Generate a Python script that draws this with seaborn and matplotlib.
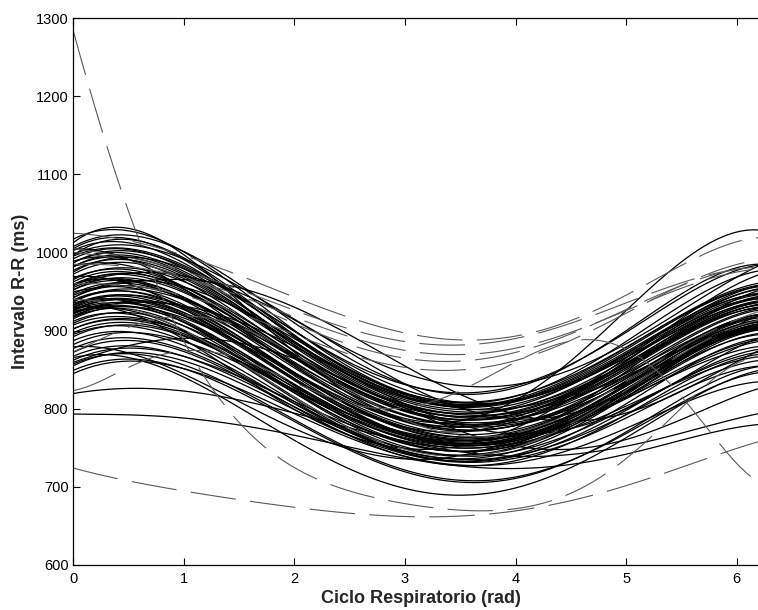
import numpy as np
import pandas as pd
import matplotlib
matplotlib.use("Agg")
import matplotlib.pyplot as plt
import seaborn as sns

# x positions (rad) at which each curve was read
X_KNOTS = [0.0, 0.5, 1.0, 1.5, 2.0, 2.5, 3.0, 3.5, 4.0, 4.5, 5.0, 5.5, 6.0, 6.28]

# solid black curves (R-R interval, ms)
SOLID_HIGH = [
    [1015, 1027, 995, 940, 878, 822, 780, 778, 812, 870, 928, 985, 1020, 1032],
    [1010, 1018, 1000, 962, 915, 868, 823, 812, 830, 865, 900, 943, 978, 988],
    [1005, 1008, 985, 945, 898, 852, 811, 802, 821, 850, 878, 915, 950, 962],
    [1000, 1010, 992, 952, 900, 850, 805, 797, 816, 845, 872, 908, 945, 958],
    [995, 998, 978, 940, 892, 845, 801, 792, 811, 840, 868, 903, 938, 950],
    [990, 996, 980, 946, 900, 852, 808, 799, 816, 842, 870, 908, 948, 962],
    [1020, 1022, 1000, 958, 905, 855, 811, 802, 821, 852, 885, 928, 968, 980],
    [985, 990, 972, 935, 888, 840, 795, 787, 806, 835, 862, 898, 933, 945],
    [998, 1000, 982, 948, 905, 862, 821, 814, 834, 865, 898, 938, 975, 988],
    [992, 985, 962, 925, 880, 835, 793, 787, 808, 840, 870, 906, 940, 950],
    [1000, 1005, 990, 960, 920, 878, 835, 824, 836, 858, 882, 921, 968, 990],
    [990, 993, 975, 938, 892, 846, 803, 796, 814, 842, 870, 906, 940, 952],
    [985, 988, 970, 935, 890, 845, 803, 797, 816, 846, 876, 913, 948, 960],
    [1005, 990, 955, 905, 855, 812, 785, 778, 790, 820, 865, 915, 960, 975],
    [1008, 1012, 990, 948, 897, 848, 805, 798, 818, 848, 878, 915, 952, 965],
    [978, 988, 978, 948, 905, 858, 815, 802, 815, 840, 866, 900, 935, 946],
    [945, 958, 955, 932, 895, 852, 810, 795, 805, 828, 855, 890, 925, 936],
    [920, 932, 930, 908, 872, 830, 790, 776, 786, 810, 840, 876, 912, 924],
]
SOLID_MID = [
    [980, 985, 968, 932, 888, 842, 799, 790, 806, 832, 858, 891, 925, 937],
    [975, 982, 965, 930, 885, 838, 793, 782, 798, 825, 852, 888, 925, 938],
    [970, 972, 955, 920, 876, 830, 788, 780, 798, 826, 855, 891, 928, 940],
    [965, 970, 952, 915, 870, 825, 783, 774, 791, 818, 846, 883, 920, 932],
    [960, 968, 955, 922, 880, 836, 793, 784, 801, 828, 858, 896, 935, 948],
    [958, 960, 942, 905, 860, 815, 773, 766, 784, 812, 842, 881, 918, 930],
    [955, 962, 948, 915, 873, 830, 789, 780, 796, 820, 845, 878, 910, 922],
    [950, 955, 940, 905, 862, 818, 776, 767, 784, 810, 838, 875, 912, 925],
    [948, 950, 932, 896, 852, 808, 765, 757, 776, 805, 835, 873, 910, 922],
    [945, 952, 940, 910, 870, 828, 786, 777, 792, 815, 840, 873, 905, 915],
    [942, 945, 928, 892, 848, 802, 758, 747, 764, 792, 822, 861, 900, 913],
    [985, 978, 955, 918, 875, 832, 791, 784, 802, 830, 858, 895, 930, 942],
    [968, 975, 962, 930, 890, 848, 808, 800, 816, 840, 865, 898, 930, 940],
    [962, 958, 938, 902, 858, 815, 775, 770, 791, 822, 852, 889, 922, 932],
    [940, 948, 938, 912, 875, 835, 795, 787, 801, 820, 842, 871, 900, 910],
    [962, 966, 950, 915, 872, 828, 787, 780, 798, 826, 856, 893, 928, 940],
    [955, 958, 942, 908, 865, 822, 781, 774, 792, 820, 850, 887, 922, 934],
    [960, 972, 970, 950, 915, 872, 830, 800, 788, 795, 822, 862, 905, 925],
    [970, 958, 928, 885, 840, 800, 775, 770, 785, 818, 862, 908, 945, 955],
    [950, 962, 965, 955, 930, 895, 855, 818, 792, 785, 795, 822, 860, 880],
]
SOLID_CENTER = [
    [935, 938, 922, 888, 845, 800, 758, 750, 768, 798, 830, 868, 905, 918],
    [932, 935, 920, 886, 843, 798, 755, 747, 764, 792, 823, 861, 898, 910],
    [930, 933, 918, 885, 842, 798, 758, 752, 771, 800, 830, 868, 903, 915],
    [928, 930, 912, 878, 835, 792, 751, 744, 762, 790, 820, 858, 895, 907],
    [925, 930, 918, 888, 850, 808, 766, 758, 774, 798, 825, 860, 893, 905],
    [922, 925, 910, 878, 838, 795, 755, 750, 768, 796, 825, 861, 895, 906],
    [920, 922, 905, 870, 826, 782, 741, 735, 754, 785, 818, 858, 895, 908],
    [918, 925, 915, 888, 852, 812, 773, 767, 784, 808, 832, 865, 896, 906],
    [915, 915, 898, 862, 818, 775, 735, 730, 751, 782, 815, 855, 892, 905],
    [912, 918, 905, 875, 836, 795, 756, 750, 766, 792, 820, 855, 888, 898],
    [910, 912, 898, 868, 830, 790, 751, 747, 766, 795, 825, 863, 898, 910],
    [905, 910, 898, 870, 833, 795, 758, 754, 772, 800, 828, 865, 900, 912],
    [938, 932, 910, 872, 828, 785, 745, 740, 760, 792, 825, 865, 902, 915],
    [926, 920, 900, 864, 820, 778, 739, 735, 756, 788, 822, 863, 900, 912],
    [933, 940, 930, 902, 864, 822, 781, 772, 786, 808, 832, 865, 897, 908],
    [936, 940, 926, 893, 850, 806, 763, 754, 771, 800, 832, 871, 908, 920],
    [929, 934, 922, 892, 852, 810, 769, 762, 778, 805, 835, 871, 905, 916],
    [924, 926, 910, 875, 832, 788, 747, 740, 758, 788, 820, 859, 896, 908],
    [940, 944, 930, 896, 852, 806, 763, 756, 774, 804, 836, 875, 912, 924],
    [925, 935, 932, 912, 880, 842, 805, 780, 768, 775, 800, 838, 878, 895],
    [930, 920, 890, 845, 800, 765, 748, 752, 775, 815, 862, 905, 935, 942],
]
SOLID_LOW = [
    [900, 905, 893, 865, 828, 790, 753, 748, 764, 788, 812, 845, 878, 890],
    [895, 902, 892, 865, 830, 792, 755, 750, 766, 790, 815, 848, 880, 892],
    [890, 893, 880, 850, 812, 772, 733, 727, 744, 770, 798, 833, 868, 880],
    [885, 892, 885, 862, 830, 795, 759, 754, 771, 792, 813, 843, 873, 883],
    [880, 885, 875, 848, 812, 775, 738, 734, 751, 775, 800, 833, 865, 876],
    [875, 882, 872, 845, 808, 768, 728, 722, 738, 765, 792, 828, 862, 873],
    [870, 875, 866, 842, 808, 772, 735, 730, 746, 768, 792, 823, 855, 865],
    [865, 872, 866, 845, 815, 782, 748, 744, 761, 782, 803, 831, 860, 870],
    [860, 865, 855, 828, 792, 752, 711, 702, 718, 742, 768, 803, 838, 850],
    [858, 866, 860, 838, 805, 768, 731, 726, 742, 765, 788, 818, 848, 858],
    [852, 858, 850, 825, 790, 750, 708, 700, 716, 742, 770, 808, 845, 858],
    [848, 855, 850, 830, 800, 765, 728, 722, 736, 756, 775, 801, 828, 838],
    [868, 860, 840, 805, 765, 725, 688, 684, 704, 732, 762, 801, 840, 853],
    [905, 908, 895, 865, 826, 785, 745, 740, 758, 785, 815, 853, 888, 900],
    [898, 900, 886, 855, 815, 773, 733, 728, 746, 775, 806, 845, 882, 894],
    [880, 870, 845, 810, 775, 748, 735, 740, 762, 800, 848, 898, 940, 955],
    [860, 880, 890, 885, 865, 835, 800, 770, 752, 750, 762, 785, 815, 830],
]
SOLID_OUTLIERS = [
    [820, 825, 823, 812, 795, 775, 757, 745, 740, 742, 752, 768, 788, 796],
    [793, 793, 788, 778, 766, 752, 738, 727, 719, 730, 745, 759, 774, 782],
]

# gray dashed curves
DASHED_UPPER = [
    [1025, 1015, 996, 972, 943, 915, 897, 890, 893, 912, 945, 985, 1013, 1020],
    [1005, 995, 975, 952, 928, 902, 885, 882, 890, 910, 935, 962, 978, 982],
    [985, 982, 968, 945, 918, 892, 874, 870, 878, 898, 925, 955, 975, 980],
    [1000, 990, 968, 940, 910, 882, 864, 862, 872, 895, 928, 958, 978, 983],
    [960, 958, 945, 922, 896, 870, 852, 850, 862, 888, 922, 958, 985, 992],
]
DASHED_OTHER = [
    [1280, 1066, 875, 775, 732, 702, 680, 664, 664, 695, 745, 800, 850, 868],
    [724, 708, 695, 683, 673, 667, 664, 662, 667, 683, 703, 725, 748, 762],
    [822, 858, 870, 860, 838, 812, 800, 815, 860, 895, 875, 810, 735, 700],
    [873, 905, 918, 905, 870, 825, 785, 765, 770, 795, 835, 878, 915, 928],
    [940, 930, 900, 860, 815, 775, 748, 740, 750, 780, 825, 870, 905, 915],
]

Y_TICKS = [600, 700, 800, 900, 1000, 1100, 1200, 1300]
X_TICKS = [0, 1, 2, 3, 4, 5, 6]
X_LABEL = "Ciclo Respiratorio (rad)"
Y_LABEL = "Intervalo R-R (ms)"

SOLID = SOLID_HIGH + SOLID_MID + SOLID_CENTER + SOLID_LOW + SOLID_OUTLIERS
DASHED = DASHED_UPPER + DASHED_OTHER

sns.set_style("ticks")
plt.rcParams["font.family"] = ["Liberation Sans", "DejaVu Sans"]

W, H = 758, 610
fig = plt.figure(figsize=(W / 100, H / 100), dpi=100)
px_per_unit = 110.57
ax = fig.add_axes([73.3 / W, (H - 565) / H, (2 * np.pi * px_per_unit) / W, (565 - 18.3) / H])

# each respiratory-cycle curve is drawn as seaborn's smooth polynomial fit
for ys in SOLID:
    d = pd.DataFrame({"x": X_KNOTS, "y": ys})
    sns.regplot(data=d, x="x", y="y", order=5, ci=None, scatter=False,
                color="black", line_kws={"linewidth": 0.9}, ax=ax)
for ys in DASHED:
    d = pd.DataFrame({"x": X_KNOTS, "y": ys})
    sns.regplot(data=d, x="x", y="y", order=6, ci=None, scatter=False,
                color="#5a5a5a",
                line_kws={"linewidth": 0.8, "linestyle": (0, (41, 13))}, ax=ax)

ax.set_xlim(0, 2 * np.pi)
ax.set_ylim(600, 1300)
ax.set_xticks(X_TICKS)
ax.set_yticks(Y_TICKS)
ax.tick_params(direction="in", length=5, width=0.8, top=True, right=True,
               labelsize=10.5, color="black", labelcolor="black")
ax.tick_params(axis="x", pad=5)
ax.tick_params(axis="y", pad=3.5)
for s in ax.spines.values():
    s.set_visible(True)
    s.set_color("black")
    s.set_linewidth(0.9)
ax.set_xlabel(X_LABEL, fontsize=13, fontweight="bold", labelpad=3)
ax.set_ylabel(Y_LABEL, fontsize=13, fontweight="bold", labelpad=5)
ax.grid(False)

fig.savefig("out.png", dpi=100, facecolor="white")
